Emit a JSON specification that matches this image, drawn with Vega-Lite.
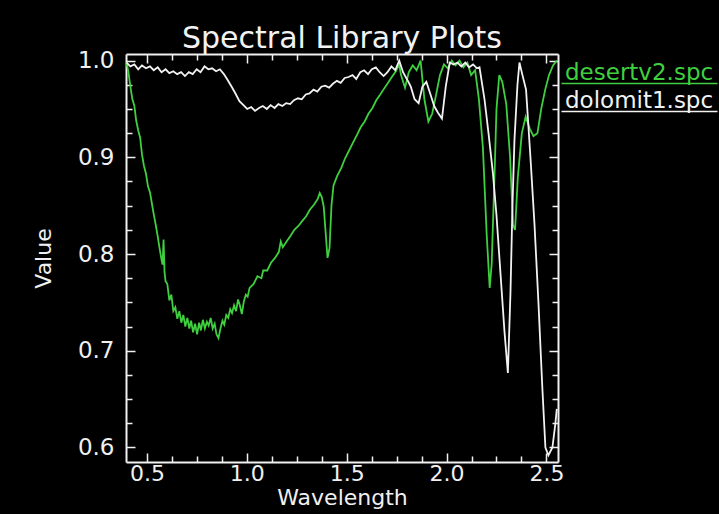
{
  "$schema": "https://vega.github.io/schema/vega-lite/v6.json",
  "width": 432,
  "height": 408,
  "autosize": "none",
  "padding": {"left": 126, "top": 54, "right": 161, "bottom": 52},
  "background": "#000000",
  "title": {"text": "Spectral Library Plots", "color": "#f2f2f2", "font": "DejaVu Sans", "fontSize": 30, "fontWeight": "normal", "anchor": "middle", "offset": -4},
  "config": {
    "view": {"stroke": null},
    "axis": {"grid": false, "domainColor": "#f0f0f0", "domainWidth": 2, "tickColor": "#f0f0f0", "tickWidth": 1.5, "labelColor": "#f0f0f0", "titleColor": "#f0f0f0", "labelFont": "DejaVu Sans", "titleFont": "DejaVu Sans", "labelFontSize": 23, "titleFontSize": 22, "titleFontWeight": "normal", "labelOverlap": false, "labelFlush": false}
  },
  "datasets": {
    "spectra": [
      {"series": "desertv2.spc", "w": 0.398, "v": 0.998},
      {"series": "desertv2.spc", "w": 0.407, "v": 0.988},
      {"series": "desertv2.spc", "w": 0.417, "v": 0.973},
      {"series": "desertv2.spc", "w": 0.427, "v": 0.960},
      {"series": "desertv2.spc", "w": 0.437, "v": 0.953},
      {"series": "desertv2.spc", "w": 0.446, "v": 0.938},
      {"series": "desertv2.spc", "w": 0.456, "v": 0.928},
      {"series": "desertv2.spc", "w": 0.466, "v": 0.920},
      {"series": "desertv2.spc", "w": 0.475, "v": 0.903},
      {"series": "desertv2.spc", "w": 0.485, "v": 0.891},
      {"series": "desertv2.spc", "w": 0.495, "v": 0.883},
      {"series": "desertv2.spc", "w": 0.505, "v": 0.870},
      {"series": "desertv2.spc", "w": 0.515, "v": 0.864},
      {"series": "desertv2.spc", "w": 0.524, "v": 0.853},
      {"series": "desertv2.spc", "w": 0.534, "v": 0.841},
      {"series": "desertv2.spc", "w": 0.544, "v": 0.830},
      {"series": "desertv2.spc", "w": 0.554, "v": 0.818},
      {"series": "desertv2.spc", "w": 0.563, "v": 0.806},
      {"series": "desertv2.spc", "w": 0.573, "v": 0.794},
      {"series": "desertv2.spc", "w": 0.578, "v": 0.789},
      {"series": "desertv2.spc", "w": 0.583, "v": 0.815},
      {"series": "desertv2.spc", "w": 0.588, "v": 0.781},
      {"series": "desertv2.spc", "w": 0.593, "v": 0.772},
      {"series": "desertv2.spc", "w": 0.602, "v": 0.769},
      {"series": "desertv2.spc", "w": 0.612, "v": 0.752},
      {"series": "desertv2.spc", "w": 0.622, "v": 0.758},
      {"series": "desertv2.spc", "w": 0.632, "v": 0.741},
      {"series": "desertv2.spc", "w": 0.642, "v": 0.745},
      {"series": "desertv2.spc", "w": 0.652, "v": 0.733},
      {"series": "desertv2.spc", "w": 0.662, "v": 0.741},
      {"series": "desertv2.spc", "w": 0.672, "v": 0.729},
      {"series": "desertv2.spc", "w": 0.682, "v": 0.737},
      {"series": "desertv2.spc", "w": 0.692, "v": 0.725},
      {"series": "desertv2.spc", "w": 0.702, "v": 0.734},
      {"series": "desertv2.spc", "w": 0.712, "v": 0.723},
      {"series": "desertv2.spc", "w": 0.721, "v": 0.731},
      {"series": "desertv2.spc", "w": 0.731, "v": 0.719},
      {"series": "desertv2.spc", "w": 0.741, "v": 0.728},
      {"series": "desertv2.spc", "w": 0.751, "v": 0.717},
      {"series": "desertv2.spc", "w": 0.761, "v": 0.729},
      {"series": "desertv2.spc", "w": 0.770, "v": 0.721},
      {"series": "desertv2.spc", "w": 0.780, "v": 0.732},
      {"series": "desertv2.spc", "w": 0.790, "v": 0.723},
      {"series": "desertv2.spc", "w": 0.800, "v": 0.730},
      {"series": "desertv2.spc", "w": 0.809, "v": 0.726},
      {"series": "desertv2.spc", "w": 0.819, "v": 0.734},
      {"series": "desertv2.spc", "w": 0.829, "v": 0.723},
      {"series": "desertv2.spc", "w": 0.839, "v": 0.728},
      {"series": "desertv2.spc", "w": 0.848, "v": 0.717},
      {"series": "desertv2.spc", "w": 0.858, "v": 0.713},
      {"series": "desertv2.spc", "w": 0.868, "v": 0.723},
      {"series": "desertv2.spc", "w": 0.878, "v": 0.731},
      {"series": "desertv2.spc", "w": 0.887, "v": 0.727},
      {"series": "desertv2.spc", "w": 0.897, "v": 0.737},
      {"series": "desertv2.spc", "w": 0.907, "v": 0.734},
      {"series": "desertv2.spc", "w": 0.917, "v": 0.743},
      {"series": "desertv2.spc", "w": 0.926, "v": 0.739},
      {"series": "desertv2.spc", "w": 0.936, "v": 0.747},
      {"series": "desertv2.spc", "w": 0.946, "v": 0.741},
      {"series": "desertv2.spc", "w": 0.956, "v": 0.753},
      {"series": "desertv2.spc", "w": 0.965, "v": 0.747},
      {"series": "desertv2.spc", "w": 0.975, "v": 0.738},
      {"series": "desertv2.spc", "w": 0.985, "v": 0.751},
      {"series": "desertv2.spc", "w": 0.995, "v": 0.758},
      {"series": "desertv2.spc", "w": 1.004, "v": 0.756},
      {"series": "desertv2.spc", "w": 1.014, "v": 0.765},
      {"series": "desertv2.spc", "w": 1.034, "v": 0.769},
      {"series": "desertv2.spc", "w": 1.053, "v": 0.777},
      {"series": "desertv2.spc", "w": 1.073, "v": 0.775},
      {"series": "desertv2.spc", "w": 1.082, "v": 0.783},
      {"series": "desertv2.spc", "w": 1.102, "v": 0.783},
      {"series": "desertv2.spc", "w": 1.121, "v": 0.791},
      {"series": "desertv2.spc", "w": 1.141, "v": 0.796},
      {"series": "desertv2.spc", "w": 1.160, "v": 0.802},
      {"series": "desertv2.spc", "w": 1.170, "v": 0.813},
      {"series": "desertv2.spc", "w": 1.180, "v": 0.807},
      {"series": "desertv2.spc", "w": 1.199, "v": 0.813},
      {"series": "desertv2.spc", "w": 1.219, "v": 0.819},
      {"series": "desertv2.spc", "w": 1.238, "v": 0.825},
      {"series": "desertv2.spc", "w": 1.258, "v": 0.829},
      {"series": "desertv2.spc", "w": 1.277, "v": 0.834},
      {"series": "desertv2.spc", "w": 1.297, "v": 0.839},
      {"series": "desertv2.spc", "w": 1.316, "v": 0.846},
      {"series": "desertv2.spc", "w": 1.336, "v": 0.851},
      {"series": "desertv2.spc", "w": 1.355, "v": 0.857},
      {"series": "desertv2.spc", "w": 1.365, "v": 0.863},
      {"series": "desertv2.spc", "w": 1.375, "v": 0.859},
      {"series": "desertv2.spc", "w": 1.385, "v": 0.849},
      {"series": "desertv2.spc", "w": 1.395, "v": 0.821},
      {"series": "desertv2.spc", "w": 1.404, "v": 0.796},
      {"series": "desertv2.spc", "w": 1.414, "v": 0.806},
      {"series": "desertv2.spc", "w": 1.424, "v": 0.851},
      {"series": "desertv2.spc", "w": 1.434, "v": 0.871},
      {"series": "desertv2.spc", "w": 1.453, "v": 0.881},
      {"series": "desertv2.spc", "w": 1.473, "v": 0.889},
      {"series": "desertv2.spc", "w": 1.492, "v": 0.899},
      {"series": "desertv2.spc", "w": 1.512, "v": 0.907},
      {"series": "desertv2.spc", "w": 1.531, "v": 0.915},
      {"series": "desertv2.spc", "w": 1.551, "v": 0.923},
      {"series": "desertv2.spc", "w": 1.570, "v": 0.931},
      {"series": "desertv2.spc", "w": 1.590, "v": 0.937},
      {"series": "desertv2.spc", "w": 1.609, "v": 0.945},
      {"series": "desertv2.spc", "w": 1.629, "v": 0.951},
      {"series": "desertv2.spc", "w": 1.648, "v": 0.959},
      {"series": "desertv2.spc", "w": 1.668, "v": 0.965},
      {"series": "desertv2.spc", "w": 1.687, "v": 0.971},
      {"series": "desertv2.spc", "w": 1.707, "v": 0.977},
      {"series": "desertv2.spc", "w": 1.726, "v": 0.983},
      {"series": "desertv2.spc", "w": 1.746, "v": 0.989},
      {"series": "desertv2.spc", "w": 1.763, "v": 0.996},
      {"series": "desertv2.spc", "w": 1.772, "v": 0.985},
      {"series": "desertv2.spc", "w": 1.792, "v": 0.972},
      {"series": "desertv2.spc", "w": 1.811, "v": 0.988},
      {"series": "desertv2.spc", "w": 1.831, "v": 0.995},
      {"series": "desertv2.spc", "w": 1.850, "v": 0.990},
      {"series": "desertv2.spc", "w": 1.870, "v": 1.000},
      {"series": "desertv2.spc", "w": 1.889, "v": 0.960},
      {"series": "desertv2.spc", "w": 1.909, "v": 0.937},
      {"series": "desertv2.spc", "w": 1.928, "v": 0.945},
      {"series": "desertv2.spc", "w": 1.948, "v": 0.965},
      {"series": "desertv2.spc", "w": 1.967, "v": 0.985},
      {"series": "desertv2.spc", "w": 1.987, "v": 0.996},
      {"series": "desertv2.spc", "w": 2.006, "v": 0.992},
      {"series": "desertv2.spc", "w": 2.026, "v": 1.000},
      {"series": "desertv2.spc", "w": 2.045, "v": 0.995},
      {"series": "desertv2.spc", "w": 2.065, "v": 1.000},
      {"series": "desertv2.spc", "w": 2.084, "v": 0.993},
      {"series": "desertv2.spc", "w": 2.104, "v": 0.998},
      {"series": "desertv2.spc", "w": 2.123, "v": 0.985},
      {"series": "desertv2.spc", "w": 2.143, "v": 0.990},
      {"series": "desertv2.spc", "w": 2.162, "v": 0.960},
      {"series": "desertv2.spc", "w": 2.182, "v": 0.910},
      {"series": "desertv2.spc", "w": 2.201, "v": 0.820},
      {"series": "desertv2.spc", "w": 2.216, "v": 0.765},
      {"series": "desertv2.spc", "w": 2.226, "v": 0.790},
      {"series": "desertv2.spc", "w": 2.240, "v": 0.880},
      {"series": "desertv2.spc", "w": 2.250, "v": 0.950},
      {"series": "desertv2.spc", "w": 2.264, "v": 0.985},
      {"series": "desertv2.spc", "w": 2.279, "v": 0.978},
      {"series": "desertv2.spc", "w": 2.299, "v": 0.955},
      {"series": "desertv2.spc", "w": 2.318, "v": 0.900},
      {"series": "desertv2.spc", "w": 2.333, "v": 0.830},
      {"series": "desertv2.spc", "w": 2.343, "v": 0.825},
      {"series": "desertv2.spc", "w": 2.357, "v": 0.880},
      {"series": "desertv2.spc", "w": 2.377, "v": 0.925},
      {"series": "desertv2.spc", "w": 2.396, "v": 0.942},
      {"series": "desertv2.spc", "w": 2.416, "v": 0.930},
      {"series": "desertv2.spc", "w": 2.435, "v": 0.922},
      {"series": "desertv2.spc", "w": 2.455, "v": 0.925},
      {"series": "desertv2.spc", "w": 2.474, "v": 0.950},
      {"series": "desertv2.spc", "w": 2.494, "v": 0.970},
      {"series": "desertv2.spc", "w": 2.513, "v": 0.985},
      {"series": "desertv2.spc", "w": 2.533, "v": 0.995},
      {"series": "desertv2.spc", "w": 2.552, "v": 1.000},
      {"series": "dolomit1.spc", "w": 0.398, "v": 0.998},
      {"series": "dolomit1.spc", "w": 0.417, "v": 0.994},
      {"series": "dolomit1.spc", "w": 0.437, "v": 0.996},
      {"series": "dolomit1.spc", "w": 0.456, "v": 0.991},
      {"series": "dolomit1.spc", "w": 0.475, "v": 0.995},
      {"series": "dolomit1.spc", "w": 0.495, "v": 0.992},
      {"series": "dolomit1.spc", "w": 0.515, "v": 0.994},
      {"series": "dolomit1.spc", "w": 0.534, "v": 0.990},
      {"series": "dolomit1.spc", "w": 0.554, "v": 0.993},
      {"series": "dolomit1.spc", "w": 0.573, "v": 0.988},
      {"series": "dolomit1.spc", "w": 0.593, "v": 0.991},
      {"series": "dolomit1.spc", "w": 0.612, "v": 0.987},
      {"series": "dolomit1.spc", "w": 0.632, "v": 0.989},
      {"series": "dolomit1.spc", "w": 0.651, "v": 0.986},
      {"series": "dolomit1.spc", "w": 0.671, "v": 0.988},
      {"series": "dolomit1.spc", "w": 0.690, "v": 0.984},
      {"series": "dolomit1.spc", "w": 0.710, "v": 0.988},
      {"series": "dolomit1.spc", "w": 0.729, "v": 0.986},
      {"series": "dolomit1.spc", "w": 0.749, "v": 0.991},
      {"series": "dolomit1.spc", "w": 0.768, "v": 0.988},
      {"series": "dolomit1.spc", "w": 0.788, "v": 0.994},
      {"series": "dolomit1.spc", "w": 0.807, "v": 0.991},
      {"series": "dolomit1.spc", "w": 0.826, "v": 0.992},
      {"series": "dolomit1.spc", "w": 0.846, "v": 0.989},
      {"series": "dolomit1.spc", "w": 0.865, "v": 0.991},
      {"series": "dolomit1.spc", "w": 0.885, "v": 0.986},
      {"series": "dolomit1.spc", "w": 0.904, "v": 0.980},
      {"series": "dolomit1.spc", "w": 0.924, "v": 0.973},
      {"series": "dolomit1.spc", "w": 0.943, "v": 0.966},
      {"series": "dolomit1.spc", "w": 0.963, "v": 0.958},
      {"series": "dolomit1.spc", "w": 0.983, "v": 0.954},
      {"series": "dolomit1.spc", "w": 1.002, "v": 0.950},
      {"series": "dolomit1.spc", "w": 1.022, "v": 0.952},
      {"series": "dolomit1.spc", "w": 1.041, "v": 0.948},
      {"series": "dolomit1.spc", "w": 1.061, "v": 0.951},
      {"series": "dolomit1.spc", "w": 1.080, "v": 0.953},
      {"series": "dolomit1.spc", "w": 1.100, "v": 0.950},
      {"series": "dolomit1.spc", "w": 1.119, "v": 0.954},
      {"series": "dolomit1.spc", "w": 1.139, "v": 0.951},
      {"series": "dolomit1.spc", "w": 1.158, "v": 0.955},
      {"series": "dolomit1.spc", "w": 1.178, "v": 0.953},
      {"series": "dolomit1.spc", "w": 1.197, "v": 0.956},
      {"series": "dolomit1.spc", "w": 1.217, "v": 0.955},
      {"series": "dolomit1.spc", "w": 1.236, "v": 0.959},
      {"series": "dolomit1.spc", "w": 1.256, "v": 0.961},
      {"series": "dolomit1.spc", "w": 1.275, "v": 0.960},
      {"series": "dolomit1.spc", "w": 1.295, "v": 0.965},
      {"series": "dolomit1.spc", "w": 1.314, "v": 0.966},
      {"series": "dolomit1.spc", "w": 1.334, "v": 0.970},
      {"series": "dolomit1.spc", "w": 1.353, "v": 0.968},
      {"series": "dolomit1.spc", "w": 1.373, "v": 0.973},
      {"series": "dolomit1.spc", "w": 1.392, "v": 0.974},
      {"series": "dolomit1.spc", "w": 1.412, "v": 0.972},
      {"series": "dolomit1.spc", "w": 1.431, "v": 0.976},
      {"series": "dolomit1.spc", "w": 1.451, "v": 0.979},
      {"series": "dolomit1.spc", "w": 1.470, "v": 0.977},
      {"series": "dolomit1.spc", "w": 1.490, "v": 0.982},
      {"series": "dolomit1.spc", "w": 1.509, "v": 0.983},
      {"series": "dolomit1.spc", "w": 1.529, "v": 0.985},
      {"series": "dolomit1.spc", "w": 1.548, "v": 0.981},
      {"series": "dolomit1.spc", "w": 1.568, "v": 0.988},
      {"series": "dolomit1.spc", "w": 1.587, "v": 0.990},
      {"series": "dolomit1.spc", "w": 1.607, "v": 0.986},
      {"series": "dolomit1.spc", "w": 1.626, "v": 0.991},
      {"series": "dolomit1.spc", "w": 1.646, "v": 0.993},
      {"series": "dolomit1.spc", "w": 1.665, "v": 0.988},
      {"series": "dolomit1.spc", "w": 1.685, "v": 0.984},
      {"series": "dolomit1.spc", "w": 1.704, "v": 0.988},
      {"series": "dolomit1.spc", "w": 1.724, "v": 0.994},
      {"series": "dolomit1.spc", "w": 1.743, "v": 0.990},
      {"series": "dolomit1.spc", "w": 1.763, "v": 1.000},
      {"series": "dolomit1.spc", "w": 1.782, "v": 0.988},
      {"series": "dolomit1.spc", "w": 1.801, "v": 0.981},
      {"series": "dolomit1.spc", "w": 1.821, "v": 0.973},
      {"series": "dolomit1.spc", "w": 1.840, "v": 0.960},
      {"series": "dolomit1.spc", "w": 1.860, "v": 0.956},
      {"series": "dolomit1.spc", "w": 1.879, "v": 0.973},
      {"series": "dolomit1.spc", "w": 1.899, "v": 0.978},
      {"series": "dolomit1.spc", "w": 1.918, "v": 0.966},
      {"series": "dolomit1.spc", "w": 1.938, "v": 0.953},
      {"series": "dolomit1.spc", "w": 1.957, "v": 0.946},
      {"series": "dolomit1.spc", "w": 1.977, "v": 0.940},
      {"series": "dolomit1.spc", "w": 1.996, "v": 0.973},
      {"series": "dolomit1.spc", "w": 2.016, "v": 0.998},
      {"series": "dolomit1.spc", "w": 2.035, "v": 0.996},
      {"series": "dolomit1.spc", "w": 2.055, "v": 0.998},
      {"series": "dolomit1.spc", "w": 2.074, "v": 0.994},
      {"series": "dolomit1.spc", "w": 2.094, "v": 0.998},
      {"series": "dolomit1.spc", "w": 2.113, "v": 0.993},
      {"series": "dolomit1.spc", "w": 2.133, "v": 0.996},
      {"series": "dolomit1.spc", "w": 2.152, "v": 0.992},
      {"series": "dolomit1.spc", "w": 2.165, "v": 0.993},
      {"series": "dolomit1.spc", "w": 2.190, "v": 0.960},
      {"series": "dolomit1.spc", "w": 2.210, "v": 0.925},
      {"series": "dolomit1.spc", "w": 2.232, "v": 0.884},
      {"series": "dolomit1.spc", "w": 2.250, "v": 0.840},
      {"series": "dolomit1.spc", "w": 2.270, "v": 0.780},
      {"series": "dolomit1.spc", "w": 2.290, "v": 0.720},
      {"series": "dolomit1.spc", "w": 2.307, "v": 0.677},
      {"series": "dolomit1.spc", "w": 2.320, "v": 0.760},
      {"series": "dolomit1.spc", "w": 2.330, "v": 0.850},
      {"series": "dolomit1.spc", "w": 2.340, "v": 0.918},
      {"series": "dolomit1.spc", "w": 2.355, "v": 0.975},
      {"series": "dolomit1.spc", "w": 2.365, "v": 0.998},
      {"series": "dolomit1.spc", "w": 2.380, "v": 0.985},
      {"series": "dolomit1.spc", "w": 2.398, "v": 0.970},
      {"series": "dolomit1.spc", "w": 2.420, "v": 0.900},
      {"series": "dolomit1.spc", "w": 2.440, "v": 0.832},
      {"series": "dolomit1.spc", "w": 2.460, "v": 0.750},
      {"series": "dolomit1.spc", "w": 2.480, "v": 0.660},
      {"series": "dolomit1.spc", "w": 2.495, "v": 0.600},
      {"series": "dolomit1.spc", "w": 2.510, "v": 0.592},
      {"series": "dolomit1.spc", "w": 2.530, "v": 0.600},
      {"series": "dolomit1.spc", "w": 2.545, "v": 0.625},
      {"series": "dolomit1.spc", "w": 2.552, "v": 0.640}
    ]
  },
  "data": {"name": "spectra"},
  "layer": [
    {
      "mark": {"type": "line", "strokeWidth": 1.8, "clip": false},
      "encoding": {
        "x": {"field": "w", "type": "quantitative", "title": "Wavelength",
          "scale": {"domain": [0.395, 2.558], "nice": false, "zero": false},
          "axis": {"orient": "bottom", "values": [0.5, 0.625, 0.75, 0.875, 1.0, 1.125, 1.25, 1.375, 1.5, 1.625, 1.75, 1.875, 2.0, 2.125, 2.25, 2.375, 2.5],
            "labelExpr": "abs(datum.value*2 - round(datum.value*2)) < 0.001 ? format(datum.value, '.1f') : ''",
            "tickSize": {"condition": {"test": "abs(datum.value*2 - round(datum.value*2)) < 0.001", "value": -9}, "value": -6},
            "labelFontSize": 22, "labelPadding": 10, "titleFontSize": 22, "titlePadding": 0}},
        "y": {"field": "v", "type": "quantitative", "title": "Value",
          "scale": {"domain": [0.585, 1.0068], "nice": false, "zero": false},
          "axis": {"orient": "left", "values": [0.6, 0.625, 0.65, 0.675, 0.7, 0.725, 0.75, 0.775, 0.8, 0.825, 0.85, 0.875, 0.9, 0.925, 0.95, 0.975, 1.0],
            "labelExpr": "abs(datum.value*10 - round(datum.value*10)) < 0.001 ? format(datum.value, '.1f') : ''",
            "tickSize": {"condition": {"test": "abs(datum.value*10 - round(datum.value*10)) < 0.001", "value": -9}, "value": -6},
            "labelPadding": 21, "titlePadding": 22}},
        "color": {"field": "series", "type": "nominal",
          "scale": {"domain": ["desertv2.spc", "dolomit1.spc"], "range": ["#3fcf3f", "#f2f2f2"]},
          "legend": {"orient": "right", "offset": -16, "title": null, "padding": 7,
            "symbolType": "M-1,5.5H77", "symbolSize": 16, "symbolStrokeWidth": 1.6, "symbolFillColor": "transparent",
            "labelFont": "DejaVu Sans", "labelFontSize": 23, "labelOffset": -10, "labelBaseline": "middle", "rowPadding": 2,
            "labelLimit": 300,
            "encode": {"labels": {"update": {"fill": {"scale": "color", "field": "value"}}}}}}
      }
    },
    {
      "mark": {"type": "line", "strokeOpacity": 0},
      "encoding": {
        "x": {"field": "w", "type": "quantitative",
          "axis": {"orient": "top", "title": null, "labels": false, "values": [0.5, 0.625, 0.75, 0.875, 1.0, 1.125, 1.25, 1.375, 1.5, 1.625, 1.75, 1.875, 2.0, 2.125, 2.25, 2.375, 2.5],
            "tickSize": {"condition": {"test": "abs(datum.value*2 - round(datum.value*2)) < 0.001", "value": -9}, "value": -6}}},
        "y": {"field": "v", "type": "quantitative",
          "axis": {"orient": "right", "title": null, "labels": false, "values": [0.6, 0.625, 0.65, 0.675, 0.7, 0.725, 0.75, 0.775, 0.8, 0.825, 0.85, 0.875, 0.9, 0.925, 0.95, 0.975, 1.0],
            "tickSize": {"condition": {"test": "abs(datum.value*10 - round(datum.value*10)) < 0.001", "value": -9}, "value": -6}}},
        "detail": {"field": "series"}
      }
    }
  ],
  "resolve": {"axis": {"x": "independent", "y": "independent"}}
}
